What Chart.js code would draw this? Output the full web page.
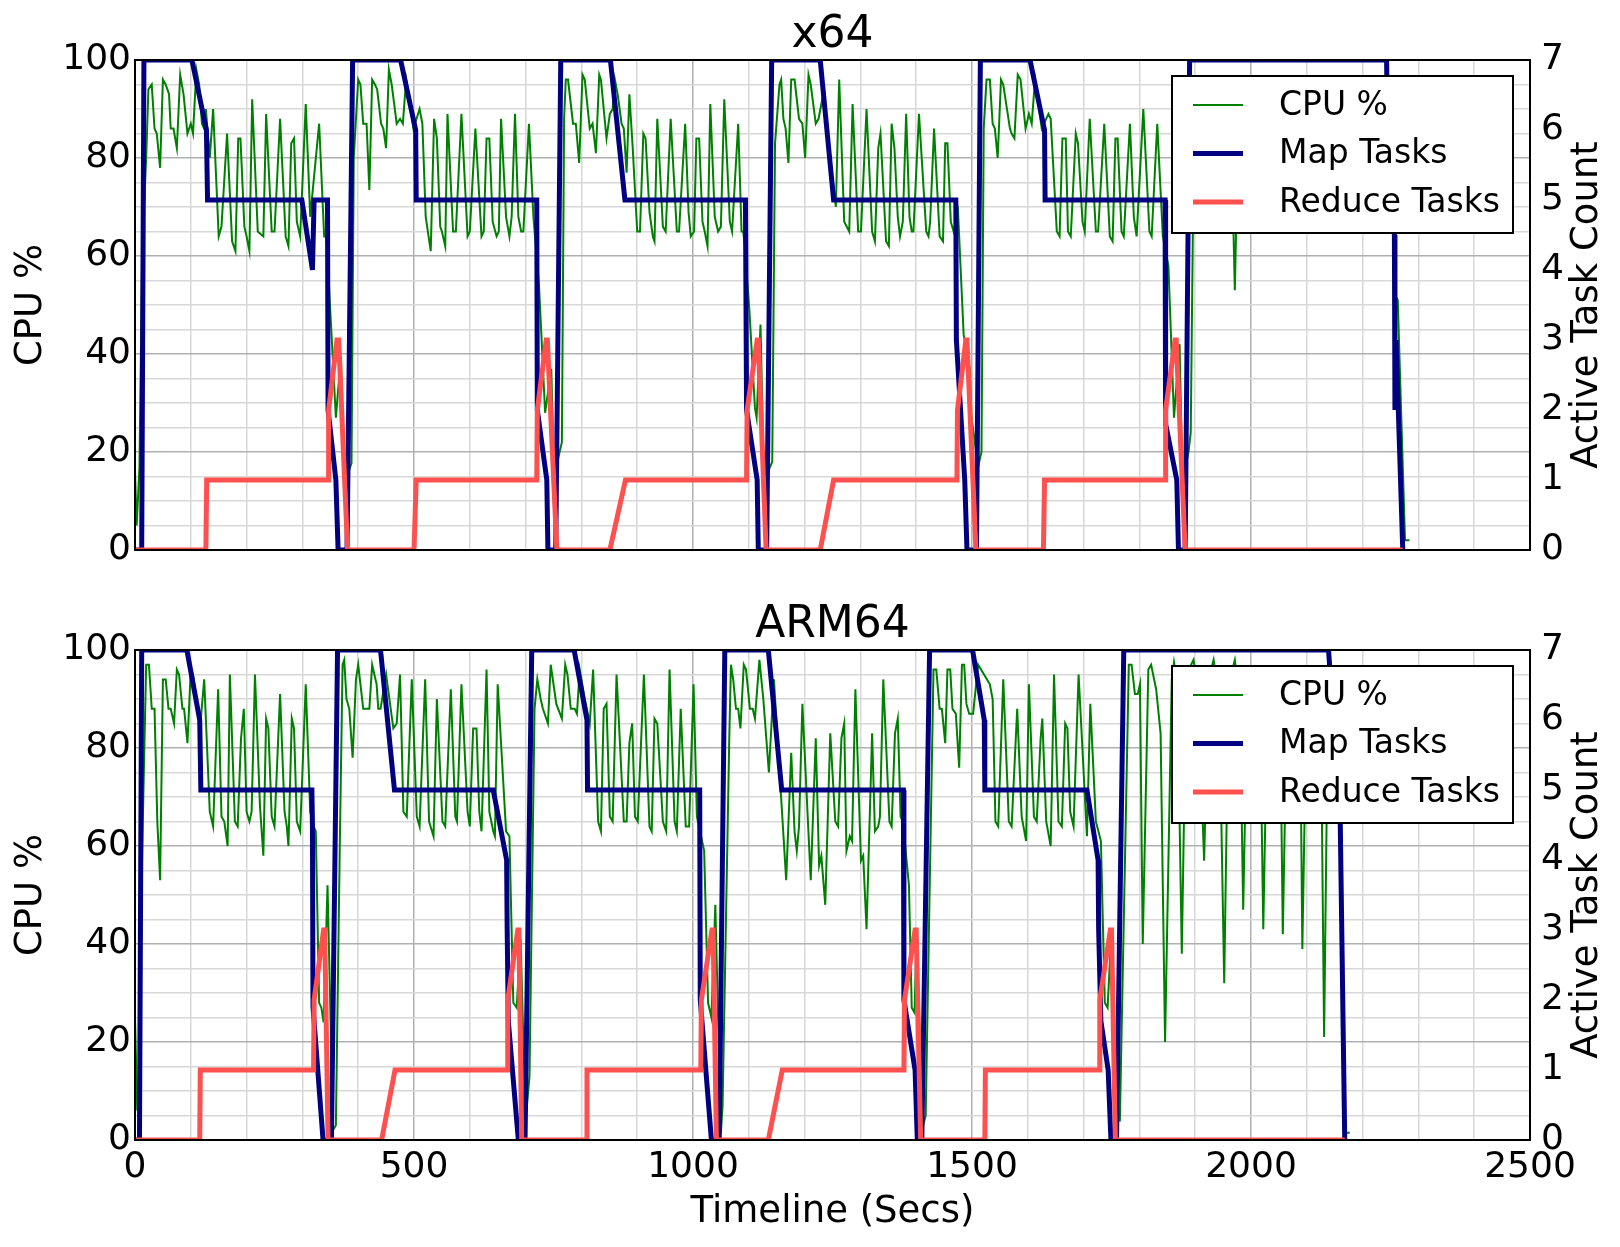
<!DOCTYPE html>
<html>
<head>
<meta charset="utf-8">
<script src="https://cdn.jsdelivr.net/npm/chart.js@4.4.1/dist/chart.umd.min.js"></script>
<style>
  html, body { margin: 0; padding: 0; background: #fff; }
  .panel { position: absolute; left: 0; width: 1620px; }
  #top { top: 0; height: 590px; }
  #bottom { top: 590px; height: 657px; }
</style>
</head>
<body>
<div class="panel" id="top"><canvas id="chartX64" width="1620" height="590"></canvas></div>
<div class="panel" id="bottom"><canvas id="chartArm" width="1620" height="657"></canvas></div>
<script>
// [seconds, value] pairs
var x64Cpu = [[0,16],[3,5],[8,17],[13,62],[20,80],[24,94],[30,95],[35,86],[39,85],[45,78],[50,96],[55,95],[61,93],[64,86],[69,86],[75,82],[81,97],[87,93],[94,85],[100,87],[104,85],[110,98],[115,95],[120,87],[124,86],[127,90],[134,80],[140,90],[150,64],[155,66],[165,85],[174,63],[180,61],[185,84],[189,84],[196,66],[200,64],[205,61],[210,92],[220,65],[230,64],[235,89],[245,65],[250,65],[260,88],[270,64],[275,62],[280,83],[285,84],[290,67],[296,64],[306,91],[314,68],[330,87],[339,64],[343,64],[360,27],[369,39.5],[375,13.6],[388,17.7],[392,80],[400,96],[404,95],[409,87],[415,87],[420,73.5],[425,96],[430,95],[434,94],[441,87],[445,86],[450,82],[455,98],[460,95],[469,87],[475,88],[480,87],[486,96],[493,91],[499,86],[510,90],[515,87],[521,68],[530,61],[536,88],[541,84],[547,66],[550,65],[556,62],[560,89],[570,65],[575,65],[585,89],[596,64],[600,65],[610,86],[621,64],[625,65],[630,84],[635,84],[641,67],[648,64],[652,65],[656,88],[665,68],[671,64],[675,68],[681,89],[687,68],[692,65],[696,65],[706,87],[714,68],[724,54],[735,28],[746,37],[751,15],[765,22],[769,88],[772,96],[776,96],[785,87],[790,87],[796,79],[802,97],[806,96],[815,86],[820,87],[826,81],[832,97],[835,96],[845,84],[851,89],[856,90],[860,96],[865,93],[872,87],[876,86],[881,77],[886,93],[892,82],[900,65],[905,65],[911,85],[915,84],[922,69],[928,64],[931,63],[936,88],[946,66],[951,65],[960,88],[971,65],[975,65],[986,87],[992,69],[996,64],[1002,65],[1006,84],[1011,84],[1017,67],[1021,65],[1026,62],[1031,91],[1039,68],[1045,65],[1050,66],[1056,92],[1066,67],[1070,65],[1081,87],[1087,65],[1090,65],[1092,63],[1101,49],[1111,29],[1114,27],[1121,46],[1127,14],[1142,18],[1147,83],[1155,95],[1158,96],[1162,88],[1166,86],[1171,79],[1176,96],[1182,96],[1190,88],[1196,87],[1201,80],[1207,97],[1211,95],[1220,87],[1225,88],[1235,94],[1247,76],[1250,76],[1256,70],[1262,96],[1271,67],[1280,65],[1286,91],[1296,65],[1301,65],[1311,90],[1321,65],[1326,63],[1332,82],[1336,85],[1346,63],[1351,62],[1356,87],[1361,82],[1367,68],[1371,64],[1376,67],[1382,89],[1388,68],[1392,65],[1395,65],[1405,89],[1418,65],[1422,64],[1425,67],[1432,86],[1442,64],[1448,63],[1452,83],[1456,83],[1462,67],[1467,65],[1475,69],[1485,44],[1496,37],[1498,28],[1511,17],[1517,20],[1521,86],[1526,96],[1532,96],[1537,87],[1541,86],[1546,80],[1552,96],[1556,95],[1568,86],[1571,85],[1576,84],[1582,97],[1587,96],[1596,86],[1602,89],[1607,87],[1613,96],[1625,86],[1637,89],[1641,88],[1652,65],[1657,64],[1662,84],[1668,84],[1672,65],[1677,64],[1686,85],[1690,83],[1698,67],[1702,65],[1711,88],[1722,65],[1726,65],[1737,87],[1747,64],[1752,63],[1757,84],[1761,84],[1768,65],[1772,64],[1783,87],[1790,68],[1795,64],[1807,90],[1818,65],[1822,64],[1832,87],[1842,64],[1852,58],[1862,27],[1872,42],[1877,14],[1888,20],[1892,24],[1897,78],[1902,93],[1910,88],[1917,95],[1925,86],[1933,93],[1941,70],[1949,90],[1957,68],[1964,88],[1971,53],[1978,90],[1986,68],[1994,89],[2002,67],[2010,90],[2018,68],[2026,88],[2034,67],[2042,91],[2050,68],[2058,87],[2066,67],[2074,90],[2082,68],[2090,88],[2098,67],[2106,89],[2114,68],[2122,87],[2130,67],[2138,90],[2146,68],[2154,88],[2162,67],[2170,90],[2178,68],[2186,87],[2194,67],[2202,89],[2210,68],[2218,88],[2226,67],[2234,90],[2242,70],[2250,80],[2258,52],[2263,51],[2276,2],[2284,2]];
var x64Map = [[0,0],[12,0],[16,7],[102,7],[128,6],[130,5],[299,5],[318,4],[321,5],[345,5],[346,2],[360,1],[364,0],[380,0],[390,7],[476,7],[503,6],[504,5],[720,5],[721,2],[738,1],[740,0],[754,0],[763,7],[852,7],[878,5],[1094,5],[1096,2],[1115,1],[1117,0],[1132,0],[1141,7],[1228,7],[1252,5],[1471,5],[1472,3],[1487,1],[1491,0],[1508,0],[1515,7],[1604,7],[1630,6],[1631,5],[1846,5],[1847,1.8],[1867,1],[1870,0],[1882,0],[1890,7],[2243,7],[2246,5],[2257,4.5],[2258,2],[2260,3],[2272,0]];
var x64Reduce = [[0,0],[127,0],[128.5,1],[346,1],[347,2],[362,3],[365,3],[381,0],[500,0],[504,1],[720,1],[721,2],[737,3],[739,3],[756,0],[851,0],[879,1],[1096,1],[1097,2],[1115,3],[1117,3],[1131,0],[1228,0],[1252,1],[1473,1],[1474,2],[1489,3],[1491,3],[1507,0],[1628,0],[1630,1],[1846,1],[1847,2],[1864,3],[1866,3],[1882,0],[2272,0]];

var armCpu = [[0,25],[4,6],[8,16],[13,60],[20,97],[25,97],[30,88],[35,88],[40,65],[45,53],[50,94],[55,94],[60,88],[64,88],[70,85],[75,96],[79,95],[85,88],[88,88],[94,81],[100,96],[104,95],[110,90],[118,86],[124,94],[134,67],[140,64],[149,92],[155,66],[160,65],[166,60],[170,95],[179,65],[184,64],[190,82],[195,88],[200,67],[205,65],[209,67],[215,95],[224,68],[230,58],[235,86],[239,84],[245,66],[250,64],[260,91],[268,67],[272,64],[275,60],[281,86],[285,84],[290,65],[296,63],[306,93],[314,67],[320,64],[324,63],[330,28],[334,27],[338,24],[345,52],[355,2],[360,3],[367,60],[372,97],[375,98],[379,90],[384,88],[390,78],[396,94],[400,97],[409,88],[415,88],[420,88],[425,97],[433,93],[436,88],[440,88],[450,95],[463,84],[469,85],[475,95],[481,67],[487,66],[496,94],[505,66],[510,64],[520,94],[527,65],[535,62],[541,90],[551,65],[556,64],[566,92],[574,66],[577,65],[585,93],[596,67],[600,64],[606,84],[612,84],[617,67],[621,63],[630,96],[635,67],[642,63],[645,62],[650,93],[665,63],[671,62],[678,28],[684,27],[691,41],[700,4],[707,13],[716,88],[721,94],[727,90],[731,88],[740,85],[745,97],[755,89],[765,86],[771,97],[775,95],[781,88],[788,88],[792,87],[797,96],[806,90],[815,85],[821,96],[830,65],[835,63],[840,88],[845,89],[851,66],[856,65],[863,95],[876,65],[881,65],[886,81],[891,85],[896,66],[901,65],[912,95],[922,64],[926,63],[931,86],[936,85],[946,65],[952,63],[958,96],[967,65],[971,63],[978,88],[987,64],[993,64],[1001,93],[1007,66],[1020,59],[1027,28],[1033,25],[1040,48],[1050,1.5],[1053,7],[1065,82],[1068,97],[1072,94],[1077,88],[1081,88],[1085,84],[1091,97],[1095,96],[1102,88],[1107,88],[1111,86],[1119,98],[1126,90],[1136,75],[1145,94],[1167,53],[1176,79],[1182,63],[1186,59],[1190,64],[1196,89],[1211,53],[1220,82],[1226,56],[1230,58],[1237,48],[1246,83],[1255,65],[1260,64],[1266,82],[1271,85],[1275,59],[1281,62],[1285,61],[1291,92],[1301,57],[1305,58],[1311,43],[1321,83],[1326,63],[1332,64],[1335,66],[1341,94],[1352,65],[1356,64],[1362,83],[1367,86],[1372,66],[1376,65],[1387,52],[1392,27],[1397,26],[1401,43],[1411,2.4],[1417,5],[1431,96],[1436,96],[1442,88],[1446,88],[1452,81],[1456,96],[1461,96],[1465,88],[1471,87],[1477,76],[1482,97],[1486,97],[1490,89],[1495,87],[1502,87],[1511,97],[1532,93],[1537,90],[1542,65],[1547,64],[1556,94],[1566,65],[1571,64],[1581,88],[1589,66],[1597,61],[1602,93],[1611,66],[1616,65],[1623,82],[1626,86],[1633,65],[1641,60],[1647,95],[1655,65],[1661,64],[1667,85],[1671,84],[1676,67],[1682,64],[1691,95],[1706,62],[1712,89],[1722,65],[1731,61],[1738,28],[1743,27],[1750,43],[1760,4],[1765,4],[1781,97],[1786,97],[1792,91],[1797,91],[1801,93],[1806,40],[1816,96],[1821,97],[1830,92],[1838,83],[1846,20],[1858,94],[1862,97.5],[1868,93],[1876,38],[1884,95],[1897,98],[1905,92],[1916,57],[1924,94],[1933,98],[1943,90],[1952,32],[1960,93],[1971,98],[1980,90],[1986,47],[1994,94],[2008,92],[2016,90],[2022,43],[2030,93],[2045,91],[2052,90],[2057,42],[2065,93],[2080,92],[2088,88],[2092,39],[2100,92],[2115,93],[2125,90],[2131,21],[2138,90],[2150,85],[2160,78],[2168,1.5],[2177,1.5]];
var armMap = [[0,0],[8,0],[12,7],[93,7],[116,6],[118,5],[317,5],[318,4.5],[319,1.9],[337,0],[352,0],[363,7],[440,7],[465,5],[642,5],[666,4],[667,3],[669,1.7],[687,0],[699,0],[711,7],[787,7],[810,6],[811,5],[1012,5],[1013,2],[1033,0],[1047,0],[1057,7],[1135,7],[1159,5],[1377,5],[1378,2],[1398,1],[1402,0],[1410,0],[1424,7],[1501,7],[1522,6],[1523,5],[1706,5],[1726,4],[1727,3],[1731,1.7],[1744,1],[1749,0],[1759,0],[1772,7],[2139,7],[2160,4.5],[2168,0]];
var armReduce = [[0,0],[116,0],[117,1],[320,1],[321,2],[338,3],[340,3],[346,0],[442,0],[466,1],[667,1],[668,2],[686,3],[688,3],[693,0],[809,0],[810,1],[1014,1],[1015,2],[1034,3],[1036,3],[1042,0],[1135,0],[1160,1],[1378,1],[1379,2],[1398,3],[1400,3],[1408,0],[1523,0],[1524,1],[1728,1],[1729,2],[1748,3],[1750,3],[1757,0],[2168,0]];

var cpuTicks = [0, 20, 40, 60, 80, 100];
var timeTicks = [0, 500, 1000, 1500, 2000, 2500];

var majorGrid = '#b0b0b0';
var minorGrid = '#d8d8d8';

Chart.defaults.font.family = '"DejaVu Sans", sans-serif';
Chart.defaults.color = '#000';

function toPoints(pairs) {
    return pairs.map(function(p) { return {x: p[0], y: p[1]}; });
}

// frame, title over the plot, legend box inside the plot and the right axis label (reads upward)
var frameLegend = {
    id: 'frameLegend',
    afterDatasetsDraw: function(chart) {
        var ca = chart.chartArea;
        var ctx = chart.ctx;
        ctx.save();
        ctx.strokeStyle = '#000';
        ctx.lineWidth = 2;
        ctx.strokeRect(ca.left, ca.top, ca.right - ca.left, ca.bottom - ca.top);
        ctx.restore();
    },
    afterDraw: function(chart) {
        var ca = chart.chartArea;
        var ctx = chart.ctx;
        var lx = ca.right - 358, ly = ca.top + 16, lw = 341, lh = 157;
        ctx.save();
        ctx.fillStyle = '#000';
        ctx.font = '44px "DejaVu Sans"';
        ctx.textAlign = 'center';
        ctx.textBaseline = 'middle';
        ctx.fillText(chart.options.plotTitle, (ca.left + ca.right) / 2, 36);

        ctx.textAlign = 'left';
        ctx.fillStyle = '#fff';
        ctx.fillRect(lx, ly, lw, lh);
        ctx.strokeStyle = '#000';
        ctx.lineWidth = 2;
        ctx.strokeRect(lx, ly, lw, lh);
        ctx.font = '33px "DejaVu Sans"';
        chart.data.datasets.forEach(function(ds, i) {
            var y = ly + 29 + i * 48.5;
            ctx.strokeStyle = ds.borderColor;
            ctx.lineWidth = ds.borderWidth;
            ctx.beginPath();
            ctx.moveTo(lx + 21, y);
            ctx.lineTo(lx + 71, y);
            ctx.stroke();
            ctx.fillStyle = '#000';
            ctx.fillText(ds.label, lx + 107, y + 1);
        });
        ctx.translate(1587, (ca.top + ca.bottom) / 2);
        ctx.rotate(-Math.PI / 2);
        ctx.font = '37px "DejaVu Sans"';
        ctx.textAlign = 'center';
        ctx.fillText('Active Task Count', 0, 0);
        ctx.restore();
    }
};

function gridColor(majorStep) {
    return function(c) {
        return c.tick && c.tick.value % majorStep === 0 ? majorGrid : minorGrid;
    };
}

function buildChart(canvasId, title, cpu, maps, reduces, showTime) {
    return new Chart(document.getElementById(canvasId), {
        type: 'line',
        data: {
            datasets: [
                {label: 'CPU %', data: toPoints(cpu), yAxisID: 'y', borderColor: '#008000', borderWidth: 2, order: 2},
                {label: 'Map Tasks', data: toPoints(maps), yAxisID: 'y2', borderColor: '#000080', borderWidth: 5, order: 1},
                {label: 'Reduce Tasks', data: toPoints(reduces), yAxisID: 'y2', borderColor: '#ff5050', borderWidth: 5, order: 0}
            ]
        },
        options: {
            plotTitle: title,
            responsive: false,
            animation: false,
            layout: {padding: {top: 60}},
            elements: {point: {radius: 0}, line: {tension: 0, borderJoinStyle: 'miter'}},
            plugins: {
                legend: {display: false},
                tooltip: {enabled: false},
                title: {display: false}
            },
            scales: {
                x: {
                    type: 'linear', min: 0, max: 2500,
                    ticks: {
                        stepSize: 100, autoSkip: false, maxRotation: 0, padding: 6,
                        font: {size: 36},
                        callback: function(v) { return showTime && timeTicks.indexOf(v) >= 0 ? String(v) : ''; }
                    },
                    grid: {color: gridColor(500), lineWidth: 1.5, drawTicks: false},
                    border: {display: false},
                    title: {
                        display: showTime, text: 'Timeline (Secs)',
                        font: {size: 37}, padding: {top: 0, bottom: 12}
                    },
                    afterFit: function(s) { s.height = showTime ? 107 : 40; }
                },
                y: {
                    position: 'left', min: 0, max: 100,
                    ticks: {
                        stepSize: 5, autoSkip: false, padding: 4,
                        font: {size: 36},
                        callback: function(v) { return cpuTicks.indexOf(v) >= 0 ? String(v) : ''; }
                    },
                    grid: {color: gridColor(20), lineWidth: 1.5, drawTicks: false},
                    border: {display: false},
                    title: {display: true, text: 'CPU %', font: {size: 37}, padding: {top: 9, bottom: 0}},
                    afterFit: function(s) { s.width = 135; }
                },
                y2: {
                    position: 'right', min: 0, max: 7,
                    ticks: {stepSize: 1, padding: 11, font: {size: 36}},
                    grid: {drawOnChartArea: false, drawTicks: false},
                    border: {display: false},
                    afterFit: function(s) { s.width = 90; }
                }
            }
        },
        plugins: [frameLegend]
    });
}

var x64Chart = buildChart('chartX64', 'x64', x64Cpu, x64Map, x64Reduce, false);
var armChart = buildChart('chartArm', 'ARM64', armCpu, armMap, armReduce, true);
</script>
</body>
</html>
